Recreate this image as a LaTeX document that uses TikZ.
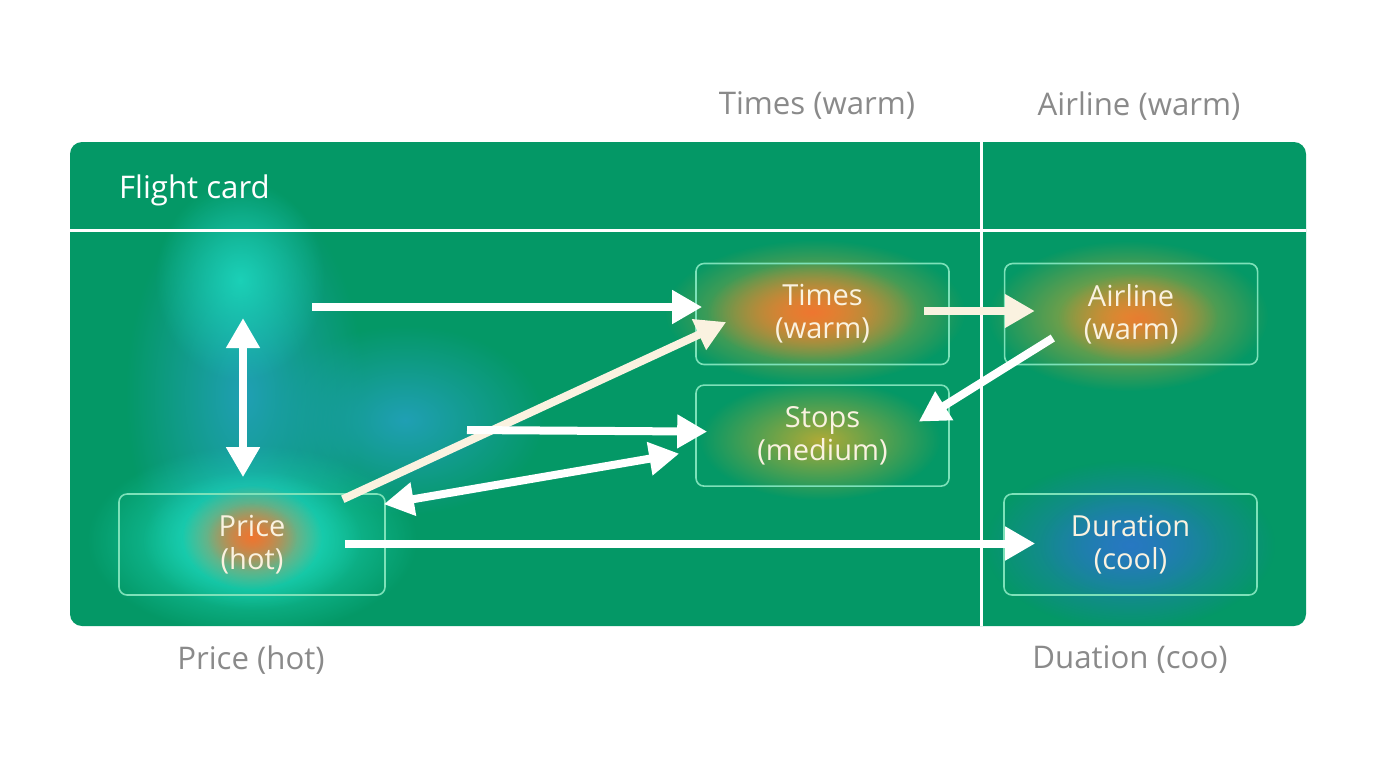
\documentclass[tikz,border=0pt]{standalone}
\usepackage{fontspec}
\setmainfont{Open Sans}
\usetikzlibrary{arrows.meta, calc, positioning, fadings}

\definecolor{cardgreen}{RGB}{4,152,102}
\definecolor{boxline}{RGB}{125,225,185}
\definecolor{labelgray}{RGB}{138,138,138}
\definecolor{cream}{RGB}{250,242,224}
\definecolor{hotorange}{RGB}{238,118,48}
\definecolor{warmyellow}{RGB}{205,165,50}
\definecolor{midolive}{RGB}{175,170,55}
\definecolor{coolblue}{RGB}{40,120,195}
\definecolor{hotcyan}{RGB}{30,222,195}
\definecolor{tealblue}{RGB}{32,160,180}

\tikzfading[name=softblob, inner color=transparent!0, outer color=transparent!100]

\begin{document}
\begin{tikzpicture}[x=0.5pt, y=-0.5pt,
    >={Triangle[length=15pt, width=16pt]},
    heatbox/.style={draw=boxline, line width=0.8pt, rounded corners=4pt, minimum width=126.5pt, minimum height=50.5pt, inner sep=0pt, align=center, text=cream, font=\fontsize{14.5}{16.5}\selectfont},
    outerlabel/.style={text=labelgray, font=\fontsize{15.6}{18}\selectfont},
    flow/.style={draw=white, line width=4pt},
    blob/.style={path fading=softblob}]
    \useasboundingbox (0,0) rectangle (1376,768);

    \node[fill=cardgreen, rounded corners=6pt, minimum width=618pt, minimum height=242pt, inner sep=0pt] (card) at (688,384) {};

    \begin{scope}
        \clip[rounded corners=6pt] (70,142) rectangle (1306,626);
        \fill[tealblue, blob] (245,395) ellipse (120 and 210);
        \fill[hotcyan, blob, opacity=0.8] (240,280) ellipse (85 and 100);
        \fill[tealblue, blob] (405,420) ellipse (140 and 95);
        \fill[hotcyan, blob] (252,540) ellipse (165 and 95);
        \fill[hotcyan, blob] (252,540) ellipse (110 and 70);
        \fill[hotorange, blob] (252,537) ellipse (70 and 52);
        \fill[hotorange, blob, opacity=0.6] (252,537) ellipse (45 and 34);
        \fill[warmyellow, blob] (815,312) ellipse (150 and 72);
        \fill[hotorange, blob] (812,312) ellipse (105 and 50);
        \fill[warmyellow, blob] (1128,316) ellipse (140 and 75);
        \fill[hotorange, blob, opacity=0.85] (1138,318) ellipse (80 and 45);
        \fill[midolive, blob] (820,440) ellipse (120 and 60);
        \fill[coolblue, blob] (1130,545) ellipse (145 and 85);
        \fill[coolblue, blob, opacity=0.5] (1130,545) ellipse (90 and 55);
    \end{scope}

    \draw[white, line width=1.5pt] (70,230) -- (1306,230);
    \draw[white, line width=1.5pt] (981,142) -- (981,626);

    \node[anchor=west, text=white, font=\fontsize{15.6}{18}\selectfont] (cardtitle) at (112,190) {Flight card};

    \node[heatbox] (times) at (822.5,314) {Times\\(warm)};
    \node[heatbox, right=27pt of times] (airline) {Airline\\(warm)};
    \node[heatbox, below=9.5pt of times] (stops) {Stops\\(medium)};
    \node[heatbox, minimum width=133pt] (price) at (252,544.5) {Price\\(hot)};
    \node[heatbox] (duration) at (1130.5,544.5) {Duration\\(cool)};

    \node[outerlabel] (timeslabel) at (817,106) {Times (warm)};
    \node[outerlabel] (airlinelabel) at (1139,106) {Airline (warm)};
    \node[outerlabel] (pricelabel) at (251,660) {Price (hot)};
    \node[outerlabel] (durationlabel) at (1130,660) {Duation (coo)};

    \coordinate (scanstart) at (312,307);
    \coordinate (scanup) at (243,318);
    \coordinate (stopsstart) at (467,430);

    \draw[flow, ->] (scanstart) -- ($(times.west)+(7,-7)$);
    \draw[flow, <->] (scanup) -- ($(price.north)+(-9,-16)$);
    \draw[flow, draw=cream, ->] ($(price.north east)+(-43,6)$) -- ($(times.west)+(31,8)$);
    \draw[flow, ->] (stopsstart) -- ($(stops.west)+(12,-4)$);
    \draw[flow, <->] ($(price.north east)+(-2,11)$) -- ($(stops.west)+(-16,18)$);
    \draw[flow, draw=cream, ->] ($(times.east)+(-26,-3)$) -- ($(airline.west)+(31,-3)$);
    \draw[flow, ->] ($(airline.west)+(49,24)$) -- ($(stops.east)+(-31,-14)$);
    \draw[flow, ->] ($(price.east)+(-41,-1)$) -- ($(duration.west)+(32,-1)$);
\end{tikzpicture}
\end{document}
